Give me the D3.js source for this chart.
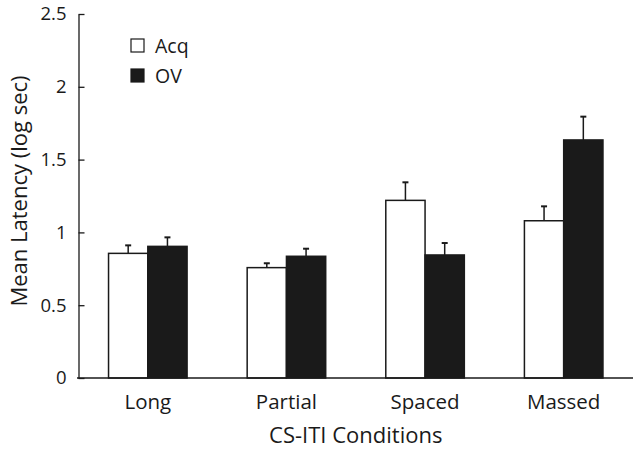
<!DOCTYPE html>
<html><head><meta charset="utf-8">
<script src="https://cdn.jsdelivr.net/npm/d3@7"></script>
<style>body{margin:0;background:#fff}svg{display:block}text{font-family:"Open Sans","Noto Sans",sans-serif;fill:#1a1a1a}</style>
</head><body>
<script>
const categories = ["Long", "Partial", "Spaced", "Massed"];
const seriesNames = ["Acq", "OV"];
const acqValues = [0.856, 0.758, 1.220, 1.080];
const ovValues = [0.904, 0.836, 0.845, 1.635];
const acqErrors = [0.055, 0.030, 0.124, 0.099];
const ovErrors = [0.062, 0.052, 0.082, 0.160];
const yTicks = [0, 0.5, 1, 1.5, 2, 2.5];
const yTickLabels = ["0", "0.5", "1", "1.5", "2", "2.5"];
const colors = ["#ffffff", "#1a1a1a"];

const W = 640, H = 449;
const svg = d3.select("body").append("svg").attr("width", W).attr("height", H);
const mLeft = 78.5, mRight = 633, mTop = 14, mBottom = 378;

const y = d3.scaleLinear().domain([0, 2.5]).range([mBottom, mTop]);
const x0 = d3.scaleBand().domain(categories).range([mLeft, mRight]).paddingInner(0).paddingOuter(0);
const x1 = d3.scaleBand().domain(seriesNames).range([0, x0.bandwidth()]).paddingInner(0).paddingOuter(0.765);

const data = categories.map((c, i) => ({
  cat: c,
  vals: [
    {s: "Acq", v: acqValues[i], e: acqErrors[i], color: colors[0]},
    {s: "OV", v: ovValues[i], e: ovErrors[i], color: colors[1]}
  ]
}));

const g = svg.append("g");
const groups = g.selectAll("g.grp").data(data).join("g")
  .attr("transform", d => `translate(${x0(d.cat)},0)`);

// error bars
groups.selectAll("g.err").data(d => d.vals).join("g").each(function(d) {
  const cx = x1(d.s) + x1.bandwidth() / 2;
  const sel = d3.select(this);
  sel.append("line").attr("x1", cx).attr("x2", cx).attr("y1", y(d.v)).attr("y2", y(d.v + d.e))
    .attr("stroke", "#1a1a1a").attr("stroke-width", 1.5);
  sel.append("line").attr("x1", cx - 3).attr("x2", cx + 3).attr("y1", y(d.v + d.e)).attr("y2", y(d.v + d.e))
    .attr("stroke", "#1a1a1a").attr("stroke-width", 2);
});

groups.selectAll("rect").data(d => d.vals).join("rect")
  .attr("x", d => x1(d.s))
  .attr("width", x1.bandwidth())
  .attr("y", d => y(d.v))
  .attr("height", d => y(0) - y(d.v))
  .attr("fill", d => d.color)
  .attr("stroke", "#1a1a1a").attr("stroke-width", 1.5);

// axes
const yAxis = d3.axisLeft(y).tickValues(yTicks).tickFormat((d, i) => yTickLabels[i]).tickSizeInner(-6).tickSizeOuter(0).tickPadding(12);
const ya = svg.append("g").attr("transform", `translate(${mLeft},0)`).call(yAxis);
ya.select(".domain").attr("stroke", "#1a1a1a").attr("stroke-width", 1.3);
ya.selectAll(".tick line").attr("stroke", "#1a1a1a").attr("stroke-width", 1.3);
ya.selectAll("text").attr("font-size", 18.5).attr("font-family", '"Open Sans",sans-serif').attr("fill", "#1a1a1a");

svg.append("line").attr("x1", mLeft - 1.5).attr("x2", mRight).attr("y1", mBottom).attr("y2", mBottom)
  .attr("stroke", "#1a1a1a").attr("stroke-width", 1.3);

const xAxis = d3.axisBottom(x0).tickSize(0).tickPadding(16);
const xa = svg.append("g").attr("transform", `translate(0,${mBottom})`).call(xAxis);
xa.select(".domain").remove();
xa.selectAll("text").attr("font-size", 20.5).attr("font-family", '"Open Sans",sans-serif').attr("fill", "#1a1a1a");

svg.append("text").attr("x", (mLeft + mRight) / 2).attr("y", 443).attr("text-anchor", "middle").attr("font-size", 22).text("CS-ITI Conditions");
svg.append("text").attr("transform", "translate(27,191) rotate(-90)").attr("text-anchor", "middle").attr("font-size", 22).text("Mean Latency (log sec)");

// legend
const leg = svg.append("g").selectAll("g").data(seriesNames).join("g")
  .attr("transform", (d, i) => `translate(131,${39 + i * 30})`);
leg.append("rect").attr("width", 13).attr("height", 13).attr("fill", (d, i) => colors[i]).attr("stroke", "#1a1a1a").attr("stroke-width", 1.2);
leg.append("text").attr("x", 24).attr("y", 13.5).attr("font-size", 19.5).text(d => d);
</script>
</body></html>
